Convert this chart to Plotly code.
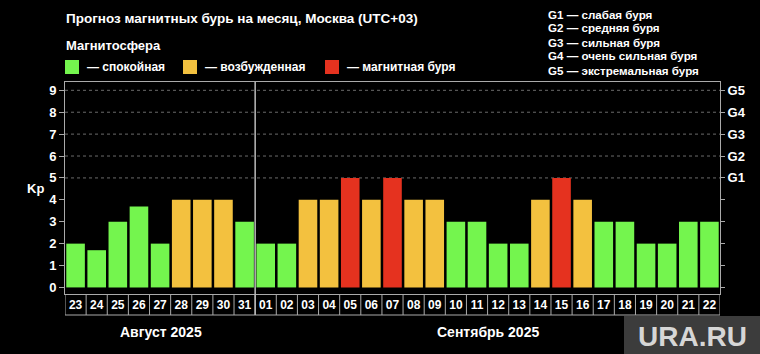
import plotly.graph_objects as go

days = ["23", "24", "25", "26", "27", "28", "29", "30", "31",
        "01", "02", "03", "04", "05", "06", "07", "08", "09", "10", "11",
        "12", "13", "14", "15", "16", "17", "18", "19", "20", "21", "22"]
kp = [2, 1.7, 3, 3.7, 2, 4, 4, 4, 3,
      2, 2, 4, 4, 5, 4, 5, 4, 4, 3, 3,
      2, 2, 4, 5, 4, 3, 3, 2, 2, 3, 3]
g_labels = ["", "", "", "", "", "G1", "G2", "G3", "G4", "G5"]
months = ["Август 2025", "Сентябрь 2025"]
legend_items = ["— спокойная", "— возбужденная", "— магнитная буря"]
g_legend = ["G1 — слабая буря", "G2 — средняя буря", "G3 — сильная буря",
            "G4 — очень сильная буря", "G5 — экстремальная буря"]

GREEN = "#74F54E"
ORANGE = "#F3C13F"
RED = "#E5321F"
colors = [RED if v >= 5 else (ORANGE if v >= 4 else GREEN) for v in kp]

W, H = 760, 354
ML, MR, MT, MB = 65, 40, 82, 60
PW, PH = W - ML - MR, H - MT - MB
FONT = "Liberation Sans, Arial, sans-serif"


def px(x):
    return (x - ML) / PW


def py(y):
    return (H - MB - y) / PH


idx = list(range(len(days)))
fig = go.Figure()
fig.add_trace(go.Bar(x=idx, y=kp, marker=dict(color=colors, line=dict(width=0)),
                     hoverinfo="skip", showlegend=False))
fig.add_trace(go.Scatter(x=[0], y=[0], yaxis="y2", mode="markers",
                         marker=dict(opacity=0), showlegend=False, hoverinfo="skip"))

shapes = []
# dotted gridlines at storm levels
for g in range(5, 10):
    shapes.append(dict(type="line", xref="paper", yref="y", x0=0, x1=1, y0=g, y1=g,
                       line=dict(color="#6a6a6a", width=1, dash="dot"), layer="below"))
# tick cells
cell_bottom = py(315)
for i in range(len(days) + 1):
    shapes.append(dict(type="line", xref="x", yref="paper", x0=i - 0.5, x1=i - 0.5,
                       y0=0, y1=cell_bottom, line=dict(color="#aaa", width=1)))
shapes.append(dict(type="line", xref="x", yref="paper", x0=-0.5, x1=len(days) - 0.5,
                   y0=cell_bottom, y1=cell_bottom, line=dict(color="#aaa", width=1)))
# month separator
sep = days.index("01") - 0.5
shapes.append(dict(type="line", xref="x", yref="paper", x0=sep, x1=sep,
                   y0=cell_bottom, y1=1, line=dict(color="#bbb", width=1.5)))

annotations = []
annotations.append(dict(text="<b>Прогноз магнитных бурь на месяц, Москва (UTC+03)</b>",
                        xref="paper", yref="paper", x=px(64), y=py(18), xanchor="left",
                        yanchor="middle", showarrow=False,
                        font=dict(size=13.5, color="white", family=FONT)))
annotations.append(dict(text="<b>Магнитосфера</b>", xref="paper", yref="paper",
                        x=px(64), y=py(45), xanchor="left", yanchor="middle",
                        showarrow=False, font=dict(size=13, color="white", family=FONT)))
leg_sq_x = [65, 183, 325]
for c, x0, t in zip([GREEN, ORANGE, RED], leg_sq_x, legend_items):
    shapes.append(dict(type="rect", xref="paper", yref="paper", x0=px(x0), x1=px(x0 + 14),
                       y0=py(74), y1=py(60), fillcolor=c, line=dict(width=0)))
    annotations.append(dict(text="<b>" + t + "</b>", xref="paper", yref="paper",
                            x=px(x0 + 20), y=py(67), xanchor="left", yanchor="middle",
                            showarrow=False, font=dict(size=12, color="white", family=FONT)))
for k, t in enumerate(g_legend):
    annotations.append(dict(text="<b>" + t + "</b>", xref="paper", yref="paper",
                            x=px(546), y=py(14 + k * 14), xanchor="left", yanchor="middle",
                            showarrow=False, font=dict(size=11.6, color="white", family=FONT)))
annotations.append(dict(text="<b>Kp</b>", xref="paper", yref="paper", x=px(35), y=py(188),
                        xanchor="center", yanchor="middle", showarrow=False,
                        font=dict(size=13, color="white", family=FONT)))
annotations.append(dict(text="<b>" + months[0] + "</b>", xref="paper", yref="paper",
                        x=px(161), y=py(332), xanchor="center", yanchor="middle",
                        showarrow=False, font=dict(size=14, color="white", family=FONT)))
annotations.append(dict(text="<b>" + months[1] + "</b>", xref="paper", yref="paper",
                        x=px(488), y=py(332), xanchor="center", yanchor="middle",
                        showarrow=False, font=dict(size=14, color="white", family=FONT)))
# watermark
shapes.append(dict(type="rect", xref="paper", yref="paper", x0=px(624), x1=px(762),
                   y0=py(356), y1=py(316), fillcolor="#3c3c3c", line=dict(width=0)))
annotations.append(dict(text="<b>URA.RU</b>", xref="paper", yref="paper", x=px(692),
                        y=py(336), xanchor="center", yanchor="middle", showarrow=False,
                        font=dict(size=28, color="#d6d6d6", family=FONT)))

yr = [-0.3, 9.38]
fig.update_layout(
    width=W, height=H,
    margin=dict(l=ML, r=MR, t=MT, b=MB),
    paper_bgcolor="black", plot_bgcolor="black",
    bargap=0.12,
    font=dict(family=FONT, color="white"),
    xaxis=dict(range=[-0.5, len(days) - 0.5], tickvals=idx, ticktext=days,
               tickfont=dict(size=12, color="white", family=FONT, weight="bold"),
               showgrid=False, zeroline=False, showline=True, linecolor="#aaa",
               mirror=True, ticks="", fixedrange=True),
    yaxis=dict(range=yr, tickvals=list(range(10)), showgrid=False, zeroline=False,
               showline=True, linecolor="#aaa", mirror=True, ticks="outside",
               ticklen=5, tickcolor="#aaa",
               tickfont=dict(size=13, color="white", family=FONT, weight="bold")),
    yaxis2=dict(range=yr, overlaying="y", side="right", tickvals=list(range(10)),
                ticktext=g_labels, showgrid=False, zeroline=False, showline=True,
                linecolor="#aaa", ticks="outside", ticklen=4, tickcolor="#aaa",
                tickfont=dict(size=13, color="white", family=FONT, weight="bold")),
    shapes=shapes,
    annotations=annotations,
)

fig.write_html("out.html")
